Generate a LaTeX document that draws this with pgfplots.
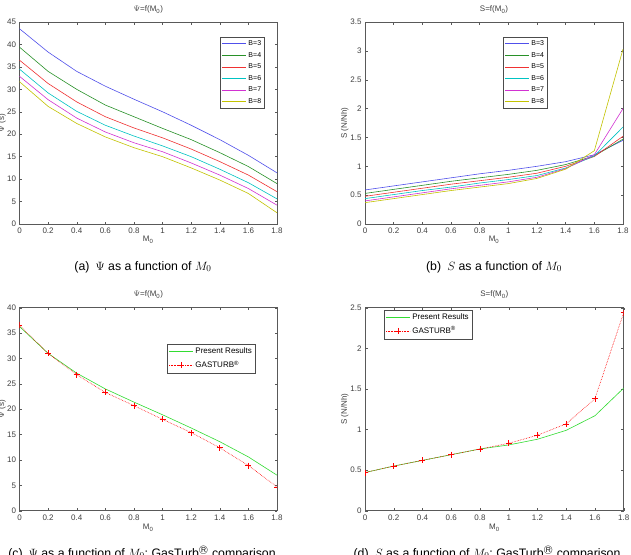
\documentclass[border=0pt]{standalone}
\usepackage{pgfplots}
\pgfplotsset{compat=1.18}
\usepackage{fontspec}
\setmainfont{Liberation Sans}

\definecolor{mblue}{RGB}{80,80,235}
\definecolor{mgreen}{RGB}{40,145,40}
\definecolor{mred}{RGB}{240,50,50}
\definecolor{mcyan}{RGB}{0,195,195}
\definecolor{mmag}{RGB}{210,50,210}
\definecolor{myel}{RGB}{195,195,0}
\definecolor{lime}{RGB}{50,220,50}

\pgfplotsset{
  mstyle/.style={
    scale only axis,
    xmin=0, xmax=1.8,
    xtick={0,0.2,0.4,0.6,0.8,1,1.2,1.4,1.6,1.8},
    xticklabels={0,0.2,0.4,0.6,0.8,1,1.2,1.4,1.6,1.8},
    tick align=inside,
    major tick length=2.5pt,
    axis line style={black!65, line width=0.5pt},
    every tick/.style={black!65, line width=0.4pt},
    tick label style={font=\fontsize{8}{9}\selectfont, text=black!75},
    /pgf/number format/assume math mode=true,
    xticklabel style={yshift=-0.5pt},
    label style={font=\fontsize{8}{9}\selectfont, text=black!75},
    title style={font=\fontsize{8}{9}\selectfont, text=black!75, yshift=-6pt},
    xlabel={M\textsubscript{0}},
    legend cell align=left,
    legend style={font=\fontsize{7}{8}\selectfont, draw=black!70,
      inner sep=1.5pt, row sep=1.2pt, fill=white},
    legend image code/.code={%
      \draw[mark repeat=2, mark phase=2, line width=0.7pt, ##1]
        plot coordinates {(0pt,0pt) (12pt,0pt) (24pt,0pt)};},
    every axis plot/.append style={line width=0.6pt},
  },
  toprow/.style={
    width=257.5pt, height=202pt,
    title style={at={(axis description cs:0.5,1.06)}, anchor=center},
    xlabel style={at={(axis description cs:0.5,-0.079)}, anchor=center},
  },
  botrow/.style={
    width=257.5pt, height=203pt,
    title style={at={(axis description cs:0.5,1.063)}, anchor=center},
    xlabel style={at={(axis description cs:0.5,-0.084)}, anchor=center},
    legend style={font=\fontsize{8}{9}\selectfont, row sep=1.8pt},
  },
  gasturb/.style={red, densely dotted, mark=+, mark size=3pt,
    mark options={solid, line width=0.6pt}},
}

\begin{document}
\begin{tikzpicture}
\useasboundingbox (0,0) rectangle (631pt,-554pt);
\fill[white] (0,0) rectangle (631pt,-554pt);
\clip (0,0) rectangle (631pt,-554pt);

% (a) Psi versus M0 for several bypass ratios
\begin{axis}[mstyle, toprow,
  at={(19.5pt,-224pt)}, anchor=south west,
  ymin=0, ymax=45, ytick={0,5,...,45},
  title={$\Psi$=f(M\textsubscript{0})},
  ylabel={$\Psi$ (s)},
  ylabel style={at={(axis description cs:-0.068,0.5)}, anchor=center},
  legend style={at={(axis description cs:0.779,0.926)}, anchor=north west},
]
\addplot[mblue] coordinates {(0,43.5)(0.2,38.3)(0.4,34.0)(0.6,30.7)(0.8,27.8)(1.0,25.0)(1.2,22.0)(1.4,18.8)(1.6,15.3)(1.8,11.4)};
\addplot[mgreen] coordinates {(0,39.4)(0.2,34.0)(0.4,30.0)(0.6,26.5)(0.8,23.9)(1.0,21.3)(1.2,18.8)(1.4,15.9)(1.6,12.8)(1.8,9.0)};
\addplot[mred] coordinates {(0,36.5)(0.2,31.3)(0.4,27.2)(0.6,23.9)(0.8,21.4)(1.0,19.2)(1.2,16.7)(1.4,13.9)(1.6,10.9)(1.8,7.2)};
\addplot[mcyan] coordinates {(0,34.5)(0.2,29.2)(0.4,25.1)(0.6,22.0)(0.8,19.6)(1.0,17.4)(1.2,15.0)(1.4,12.2)(1.6,9.2)(1.8,5.6)};
\addplot[mmag] coordinates {(0,32.9)(0.2,27.7)(0.4,23.6)(0.6,20.5)(0.8,18.1)(1.0,16.1)(1.2,13.6)(1.4,10.9)(1.6,7.9)(1.8,4.2)};
\addplot[myel] coordinates {(0,31.7)(0.2,26.2)(0.4,22.4)(0.6,19.4)(0.8,17.0)(1.0,15.0)(1.2,12.5)(1.4,9.8)(1.6,6.8)(1.8,2.5)};
\legend{B=3,B=4,B=5,B=6,B=7,B=8}
\end{axis}

% (b) S versus M0 for several bypass ratios
\begin{axis}[mstyle, toprow,
  at={(365pt,-224pt)}, anchor=south west, width=258pt,
  ymin=0, ymax=3.5, ytick={0,0.5,...,3.5},
  yticklabels={0,0.5,1,1.5,2,2.5,3,3.5},
  title={S=f(M\textsubscript{0})},
  ylabel={S (N/Nh)},
  ylabel style={at={(axis description cs:-0.078,0.5)}, anchor=center},
  legend style={at={(axis description cs:0.535,0.926)}, anchor=north west},
]
\addplot[mblue] coordinates {(0,0.59)(0.2,0.66)(0.4,0.73)(0.6,0.80)(0.8,0.87)(1.0,0.93)(1.2,1.00)(1.4,1.08)(1.6,1.20)(1.8,1.45)};
\addplot[mgreen] coordinates {(0,0.53)(0.2,0.60)(0.4,0.67)(0.6,0.74)(0.8,0.80)(1.0,0.86)(1.2,0.93)(1.4,1.03)(1.6,1.18)(1.8,1.47)};
\addplot[mred] coordinates {(0,0.48)(0.2,0.55)(0.4,0.62)(0.6,0.69)(0.8,0.75)(1.0,0.81)(1.2,0.88)(1.4,1.00)(1.6,1.17)(1.8,1.52)};
\addplot[mcyan] coordinates {(0,0.44)(0.2,0.51)(0.4,0.58)(0.6,0.64)(0.8,0.71)(1.0,0.77)(1.2,0.84)(1.4,0.97)(1.6,1.18)(1.8,1.68)};
\addplot[mmag] coordinates {(0,0.40)(0.2,0.47)(0.4,0.54)(0.6,0.61)(0.8,0.67)(1.0,0.73)(1.2,0.81)(1.4,0.96)(1.6,1.20)(1.8,2.00)};
\addplot[myel] coordinates {(0,0.37)(0.2,0.44)(0.4,0.51)(0.6,0.58)(0.8,0.64)(1.0,0.70)(1.2,0.79)(1.4,0.95)(1.6,1.27)(1.8,3.03)};
\legend{B=3,B=4,B=5,B=6,B=7,B=8}
\end{axis}

% (c) Psi: present results against GasTurb
\begin{axis}[mstyle, botrow,
  at={(19.5pt,-510.7pt)}, anchor=south west,
  ymin=0, ymax=40, ytick={0,5,...,40},
  title={$\Psi$=f(M\textsubscript{0})},
  ylabel={$\Psi$ (s)},
  ylabel style={at={(axis description cs:-0.068,0.5)}, anchor=center},
  legend style={at={(axis description cs:0.573,0.821)}, anchor=north west},
  clip marker paths=true,
]
\addplot[lime] coordinates {(0,36.3)(0.2,31.0)(0.4,27.1)(0.6,24.0)(0.8,21.4)(1.0,18.9)(1.2,16.3)(1.4,13.6)(1.6,10.6)(1.8,7.0)};
\addplot[gasturb] coordinates {(0,36.5)(0.2,31.0)(0.4,26.8)(0.6,23.3)(0.8,20.7)(1.0,18.0)(1.2,15.4)(1.4,12.4)(1.6,8.9)(1.8,4.7)};
\legend{Present Results,GASTURB\textsuperscript{®}}
\end{axis}

% (d) S: present results against GasTurb
\begin{axis}[mstyle, botrow,
  at={(365pt,-510.7pt)}, anchor=south west, width=258.7pt,
  ymin=0, ymax=2.5, ytick={0,0.5,...,2.5},
  yticklabels={0,0.5,1,1.5,2,2.5},
  title={S=f(M\textsubscript{0})},
  ylabel={S (N/Nh)},
  ylabel style={at={(axis description cs:-0.078,0.5)}, anchor=center},
  legend style={at={(axis description cs:0.073,0.989)}, anchor=north west},
  clip marker paths=true,
]
\addplot[lime] coordinates {(0,0.47)(0.2,0.55)(0.4,0.62)(0.6,0.69)(0.8,0.76)(1.0,0.81)(1.2,0.88)(1.4,0.99)(1.6,1.17)(1.8,1.51)};
\addplot[gasturb] coordinates {(0,0.47)(0.2,0.55)(0.4,0.62)(0.6,0.69)(0.8,0.76)(1.0,0.83)(1.2,0.93)(1.4,1.07)(1.6,1.38)(1.8,2.44)};
\legend{Present Results,GASTURB\textsuperscript{®}}
\end{axis}

% sub-figure captions
\begin{scope}[every node/.style={font=\fontsize{12.3}{14}\selectfont, anchor=base, inner sep=0pt}]
\node at (143pt,-270pt) {(a)\enspace$\Psi$ as a function of $M_0$};
\node at (494pt,-270pt) {(b)\enspace$S$ as a function of $M_0$};
\node at (142pt,-557pt) {(c)\enspace$\Psi$ as a function of $M_0$; GasTurb\textsuperscript{\textcircled{\scriptsize R}} comparison};
\node at (487pt,-557pt) {(d)\enspace$S$ as a function of $M_0$; GasTurb\textsuperscript{\textcircled{\scriptsize R}} comparison};
\end{scope}
\end{tikzpicture}
\end{document}
